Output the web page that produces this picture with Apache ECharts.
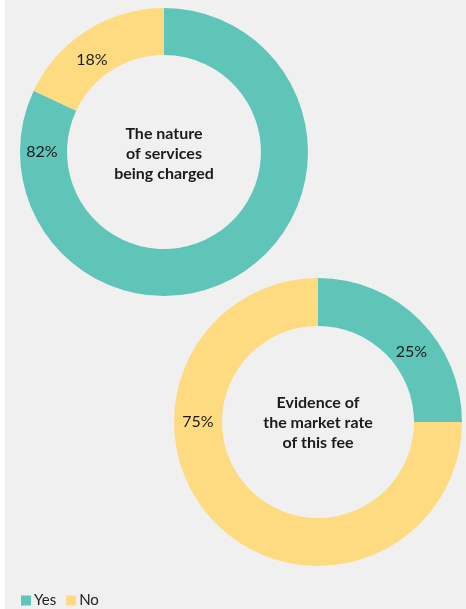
<!DOCTYPE html>
<html>
<head>
<meta charset="utf-8">
<script src="https://cdn.jsdelivr.net/npm/echarts@6/dist/echarts.min.js"></script>
<style>
html,body{margin:0;padding:0;background:#ffffff;}
#chart{position:absolute;left:5px;top:0;width:461px;height:609px;}
</style>
</head>
<body>
<div id="chart"></div>
<script>
// Data
const categories = ['Yes', 'No'];
const chart1Title = 'The nature\nof services\nbeing charged';
const chart1Values = [82, 18];
const chart2Title = 'Evidence of\nthe market rate\nof this fee';
const chart2Values = [25, 75];
const colors = ['#5fc5b9', '#fedb81'];

// Label placement (polar: angle clockwise from top in degrees, radius in px)
const labelPolar1 = [[270, 122], [322, 117]];
const labelPolar2 = [[53, 117], [270, 120]];

const c1 = [159, 152], c2 = [313, 422];

function polarToXY(center, p) {
  const a = p[0] * Math.PI / 180;
  return { x: center[0] + p[1] * Math.sin(a), y: center[1] - p[1] * Math.cos(a) };
}

function makeSeries(name, values, center, inner, polar) {
  return {
    type: 'pie',
    name: name,
    center: center,
    radius: [inner, 144],
    startAngle: 90,
    clockwise: true,
    silent: true,
    animation: false,
    label: {
      show: true,
      position: 'inside',
      formatter: p => p.value + '%',
      color: '#1b1b1b',
      fontFamily: 'Lato',
      fontSize: 16,
      fontWeight: 'normal',
      textBorderWidth: 0
    },
    labelLine: { show: false },
    labelLayout: function (params) {
      const pt = polarToXY(center, polar[params.dataIndex]);
      return { x: pt.x, y: pt.y, align: 'center', verticalAlign: 'middle' };
    },
    itemStyle: { borderWidth: 0 },
    data: categories.map((c, i) => ({ name: c, value: values[i], itemStyle: { color: colors[i] } }))
  };
}

const chart = echarts.init(document.getElementById('chart'), null, { renderer: 'canvas' });
chart.setOption({
  backgroundColor: '#f0f0f0',
  color: colors,
  legend: {
    data: categories,
    left: 11,
    top: 588,
    icon: 'rect',
    itemWidth: 10,
    itemHeight: 10,
    itemGap: 10,
    textStyle: { color: '#222', fontFamily: 'Lato', fontSize: 15, padding: [0, 0, 0, -2] }
  },
  graphic: [
    {
      type: 'text', x: c1[0], y: c1[1] + 2,
      style: { text: chart1Title, align: 'center', verticalAlign: 'middle', fill: '#1b1b1b',
        font: 'bold 16px Lato', lineHeight: 20 }
    },
    {
      type: 'text', x: c2[0], y: c2[1] + 1,
      style: { text: chart2Title, align: 'center', verticalAlign: 'middle', fill: '#1b1b1b',
        font: 'bold 16px Lato', lineHeight: 20 }
    }
  ],
  series: [
    makeSeries('chart1', chart1Values, c1, 97, labelPolar1),
    makeSeries('chart2', chart2Values, c2, 96, labelPolar2)
  ]
});
</script>
</body>
</html>
